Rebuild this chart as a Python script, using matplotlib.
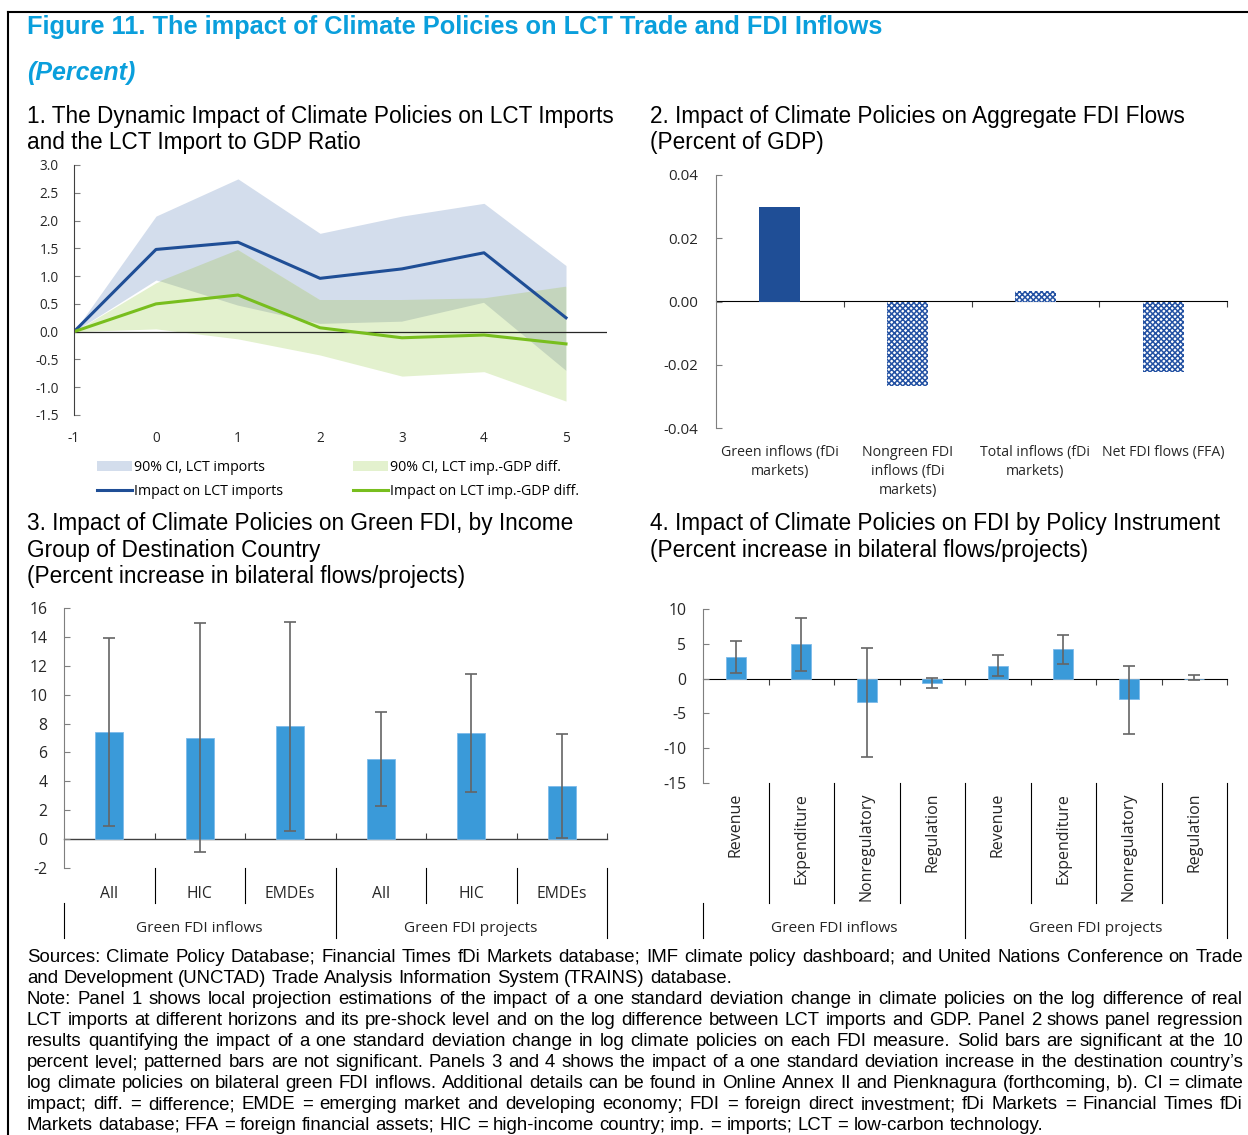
import numpy as np
import matplotlib
matplotlib.use('Agg')
import matplotlib.pyplot as plt
from matplotlib.patches import Patch
from matplotlib.lines import Line2D

W, H = 1248, 1135

### donnees panel 1
horizon = [-1, 0, 1, 2, 3, 4, 5]
lct_imp = [0, 1.48, 1.61, 0.96, 1.13, 1.42, 0.25]
lct_imp_lo = [0, 0.93, 0.47, 0.14, 0.18, 0.52, -0.70]
lct_imp_hi = [0, 2.08, 2.75, 1.77, 2.08, 2.31, 1.19]
lct_gdp = [0, 0.50, 0.66, 0.07, -0.11, -0.06, -0.22]
lct_gdp_lo = [0, 0.05, -0.13, -0.42, -0.80, -0.72, -1.25]
lct_gdp_hi = [0, 0.88, 1.47, 0.57, 0.57, 0.60, 0.81]

### donnees panel 2
fdi_cats = ['Green inflows (fDi\nmarkets)', 'Nongreen FDI\ninflows (fDi\nmarkets)',
            'Total inflows (fDi\nmarkets)', 'Net FDI flows (FFA)']
fdi_vals = [0.030, -0.0268, 0.0033, -0.0222]
fdi_signif = [True, False, False, False]

### donnees panel 3
group_names = ['Green FDI inflows', 'Green FDI projects']
inc_cats = ['All', 'HIC', 'EMDEs', 'All', 'HIC', 'EMDEs']
inc_vals = [7.4, 7.0, 7.8, 5.55, 7.35, 3.65]
inc_lo = [0.9, -0.9, 0.55, 2.3, 3.25, 0.1]
inc_hi = [13.9, 14.95, 15.0, 8.8, 11.45, 7.25]

### donnees panel 4
pol_cats = ['Revenue', 'Expenditure', 'Nonregulatory', 'Regulation'] * 2
pol_vals = [3.1, 4.9, -3.4, -0.6, 1.85, 4.2, -3.0, 0.0]
pol_lo = [0.8, 1.1, -11.3, -1.4, 0.4, 2.1, -7.9, -0.25]
pol_hi = [5.4, 8.7, 4.4, 0.1, 3.4, 6.3, 1.8, 0.45]

note_lines = [
    "Sources: Climate Policy Database; Financial Times fDi Markets database; IMF climate policy dashboard; and United Nations Conference on Trade",
    "and Development (UNCTAD) Trade Analysis Information System (TRAINS) database.",
    "Note: Panel 1 shows local projection estimations of the impact of a one standard deviation change in climate policies on the log difference of real",
    "LCT imports at different horizons and its pre-shock level and on the log difference between LCT imports and GDP. Panel 2 shows panel regression",
    "results quantifying the impact of a one standard deviation change in log climate policies on each FDI measure. Solid bars are significant at the 10",
    "percent level; patterned bars are not significant. Panels 3 and 4 shows the impact of a one standard deviation increase in the destination country\u2019s",
    "log climate policies on bilateral green FDI inflows. Additional details can be found in Online Annex II and Pienknagura (forthcoming, b). CI = climate",
    "impact; diff. = difference; EMDE = emerging market and developing economy; FDI = foreign direct investment; fDi Markets = Financial Times fDi",
    "Markets database; FFA = foreign financial assets; HIC = high-income country; imp. = imports; LCT = low-carbon technology.",
]
justified = [True, False, True, True, True, True, True, True, False]

### styles
CYAN = '#0A9FDC'
DARKBLUE = '#1F4E96'
GREEN = '#78BE1E'
BARBLUE = '#3A9AD9'
AXGRAY = '#7F7F7F'
SANS = ['Open Sans', 'DejaVu Sans']
ARIAL = ['Liberation Sans', 'DejaVu Sans']

plt.rcParams['font.family'] = SANS
plt.rcParams['axes.unicode_minus'] = False
plt.rcParams['hatch.linewidth'] = 1.1

fig = plt.figure(figsize=(W / 100, H / 100), dpi=100)
renderer = fig.canvas.get_renderer()


def fx(x):
    return x / W


def fy(y):
    return 1 - y / H


def axes_px(l, t, r, b):
    return fig.add_axes([l / W, 1 - b / H, (r - l) / W, (b - t) / H])


def style_y(ax, size, pad):
    for s in ['top', 'right', 'bottom']:
        ax.spines[s].set_visible(False)
    ax.spines['left'].set_color(AXGRAY)
    ax.tick_params(axis='y', direction='in', length=4, color=AXGRAY,
                   labelsize=size, pad=pad, labelcolor='#262626')


def zero_axis(ax, n):
    # ligne du zero avec petites graduations entre categories
    y0, y1 = ax.get_ylim()
    sec = ax.secondary_xaxis((0 - y0) / (y1 - y0))
    sec.set_xticks([k + 0.5 for k in range(n)])
    sec.set_xticklabels([])
    sec.tick_params(direction='in', length=4, color='#404040')
    sec.spines['bottom'].set_color('#404040')
    sec.spines['bottom'].set_linewidth(1.0)


def cat_axis(ax, n_per, inner_b, outer_b, label_y, size):
    n = n_per * len(group_names)
    tr = ax.get_xaxis_transform()
    for k in range(1, n + 1):
        yb = outer_b if k % n_per == 0 else inner_b
        ax.plot([k - 0.5, k - 0.5], [0, yb], transform=tr, color='black',
                lw=0.8, clip_on=False)
    ax.plot([-0.5, -0.5], [inner_b, outer_b], transform=tr, color='black',
            lw=0.8, clip_on=False)
    for g, lab in enumerate(group_names):
        ax.text(g * n_per + (n_per - 1) / 2, label_y, lab, transform=tr,
                ha='center', va='center', fontsize=size, color='#262626')


### titres
fig.text(fx(27), fy(27), 'Figure 11. The impact of Climate Policies on LCT Trade and FDI Inflows',
         family=ARIAL, weight='bold', fontsize=18.3, color=CYAN, va='center')
fig.text(fx(27), fy(73), '(Percent)', family=ARIAL, weight='bold', style='italic',
         fontsize=18, color=CYAN, va='center')

panel_titles = [
    (27, 116, '1. The Dynamic Impact of Climate Policies on LCT Imports'),
    (27, 142, 'and the LCT Import to GDP Ratio'),
    (650, 116, '2. Impact of Climate Policies on Aggregate FDI Flows'),
    (650, 142, '(Percent of GDP)'),
    (27, 524, '3. Impact of Climate Policies on Green FDI, by Income'),
    (27, 550, 'Group of Destination Country'),
    (27, 576, '(Percent increase in bilateral flows/projects)'),
    (650, 524, '4. Impact of Climate Policies on FDI by Policy Instrument'),
    (650, 550, '(Percent increase in bilateral flows/projects)'),
]
for x, y, t in panel_titles:
    fig.text(fx(x), fy(y), t, family=ARIAL, fontsize=16.3, color='black', va='center')

### panel 1
ax1 = axes_px(74, 165, 607, 415)
hx = np.array(horizon, dtype=float)
ilo, ihi = np.array(lct_imp_lo), np.array(lct_imp_hi)
glo, ghi = np.array(lct_gdp_lo), np.array(lct_gdp_hi)
ax1.fill_between(hx, ilo, ihi, color='#D3DDEC', lw=0)
ax1.fill_between(hx, glo, ghi, color='#E3F1CE', lw=0)
olo, ohi = np.maximum(ilo, glo), np.minimum(ihi, ghi)
ax1.fill_between(hx, olo, ohi, where=ohi >= olo, interpolate=True, color='#C4D5BD', lw=0)
ax1.axhline(0, color='#262626', lw=0.9)
ax1.plot(hx, lct_imp, color=DARKBLUE, lw=2.2)
ax1.plot(hx, lct_gdp, color=GREEN, lw=2.2)
ax1.set_xlim(-1, 5.5)
ax1.set_ylim(-1.5, 3.0)
ax1.set_yticks(np.arange(-1.5, 3.01, 0.5))
ax1.set_yticklabels([f'{v:.1f}' for v in np.arange(-1.5, 3.01, 0.5)])
ax1.set_xticks(horizon)
style_y(ax1, 9.8, 11)
ax1.spines['left'].set_color('#404040')
ax1.tick_params(axis='x', length=0, labelsize=9.8, pad=11.5, labelcolor='#262626')

handles = [Patch(color='#D3DDEC', lw=0), Line2D([], [], color=DARKBLUE, lw=2.2),
           Patch(color='#E3F1CE', lw=0), Line2D([], [], color=GREEN, lw=2.2)]
labels = ['90% CI, LCT imports', 'Impact on LCT imports',
          '90% CI, LCT imp.-GDP diff.', 'Impact on LCT imp.-GDP diff.']
fig.legend(handles, labels, ncol=2, loc='upper left', bbox_to_anchor=(fx(97), fy(460)),
           frameon=False, fontsize=10.2, handlelength=2.45, handletextpad=0.15,
           columnspacing=4.95, labelspacing=0.62, borderpad=0, borderaxespad=0)

### panel 2
ax2 = axes_px(716, 175, 1227, 428)
for i, (v, sig) in enumerate(zip(fdi_vals, fdi_signif)):
    if sig:
        ax2.bar(i, v, width=0.32, color=DARKBLUE, lw=0)
    else:
        ax2.bar(i, v, width=0.32, facecolor='white', edgecolor='#2452A3',
                hatch='xxxxxx', lw=0)
ax2.set_xlim(-0.5, len(fdi_cats) - 0.5)
ax2.set_ylim(-0.04, 0.04)
ax2.set_yticks([-0.04, -0.02, 0.0, 0.02, 0.04])
ax2.set_yticklabels(['-0.04', '-0.02', '0.00', '0.02', '0.04'])
style_y(ax2, 10.8, 13)
ax2.set_xticks(range(len(fdi_cats)))
ax2.set_xticklabels(fdi_cats, linespacing=1.35)
ax2.tick_params(axis='x', length=0, labelsize=10.2, pad=12.5, labelcolor='#262626')
zero_axis(ax2, len(fdi_cats))

### panel 3
ax3 = axes_px(64, 608, 607, 868)
xi = np.arange(len(inc_cats))
v3 = np.array(inc_vals)
ax3.bar(xi, v3, width=0.31, color=BARBLUE, edgecolor='#7DBBEA', lw=0.6)
ax3.errorbar(xi, v3, yerr=[v3 - np.array(inc_lo), np.array(inc_hi) - v3], fmt='none',
             ecolor='#656565', elinewidth=1.2, capsize=4, capthick=1.2)
ax3.set_xlim(-0.5, len(inc_cats) - 0.5)
ax3.set_ylim(-2, 16)
ax3.set_yticks(range(-2, 17, 2))
style_y(ax3, 11.3, 12)
ax3.set_xticks(xi)
ax3.set_xticklabels(inc_cats)
ax3.tick_params(axis='x', length=0, labelsize=11.3, pad=13, labelcolor='#262626')
zero_axis(ax3, len(inc_cats))
cat_axis(ax3, 3, -35 / 260, -70 / 260, -61 / 260, 11.1)

### panel 4
ax4 = axes_px(703, 609, 1227, 783)
xp = np.arange(len(pol_cats))
v4 = np.array(pol_vals)
ax4.bar(xp, v4, width=0.31, color=BARBLUE, edgecolor='#7DBBEA', lw=0.6)
ax4.errorbar(xp, v4, yerr=[v4 - np.array(pol_lo), np.array(pol_hi) - v4], fmt='none',
             ecolor='#656565', elinewidth=1.2, capsize=4, capthick=1.2)
ax4.set_xlim(-0.5, len(pol_cats) - 0.5)
ax4.set_ylim(-15, 10)
ax4.set_yticks(range(-15, 11, 5))
style_y(ax4, 11.3, 12)
ax4.set_xticks(xp)
ax4.set_xticklabels(pol_cats, rotation=90, va='top')
ax4.tick_params(axis='x', length=0, labelsize=11.5, pad=7, labelcolor='#262626')
zero_axis(ax4, len(pol_cats))
cat_axis(ax4, 4, -120 / 174, -155 / 174, -146 / 174, 11.1)

### cadre
fig.add_artist(Line2D([fx(8), 1], [fy(12), fy(12)], color='black', lw=1.5))
fig.add_artist(Line2D([fx(8), fx(8)], [fy(12), 0], color='black', lw=1.5))

### notes justifiees, mot par mot
note_size = 13.4


def text_w(s):
    t = fig.text(0, 0, s, family=ARIAL, fontsize=note_size)
    w = t.get_window_extent(renderer).width
    t.remove()
    return w


def snap_err(t):
    # decalage d'un pixel du a l'arrondi du bitmap Agg selon la descente du mot
    _, hh, dd = renderer.get_text_width_height_descent(t.get_text(), t.get_fontproperties(), ismath=False)
    fa, fd = (hh - dd) % 1, dd % 1
    return (1 if fd > 0.5 else 0) - (1 if fa + fd >= 1 else 0)


space_w = text_w('a b') - text_w('ab')
x0, x1 = 27, 1243
for k, (line, just) in enumerate(zip(note_lines, justified)):
    ybase = 962 + k * 21
    words = line.split(' ')
    ts = [fig.text(0, fy(ybase), w, family=ARIAL, fontsize=note_size, va='baseline') for w in words]
    widths = [t.get_window_extent(renderer).width for t in ts]
    gap = (x1 - x0 - sum(widths)) / (len(words) - 1) if just else space_w
    pos = x0
    for t, w in zip(ts, widths):
        t.set_position((fx(pos), fy(ybase - snap_err(t))))
        pos += w + gap

fig.savefig('out.png', dpi=100)
